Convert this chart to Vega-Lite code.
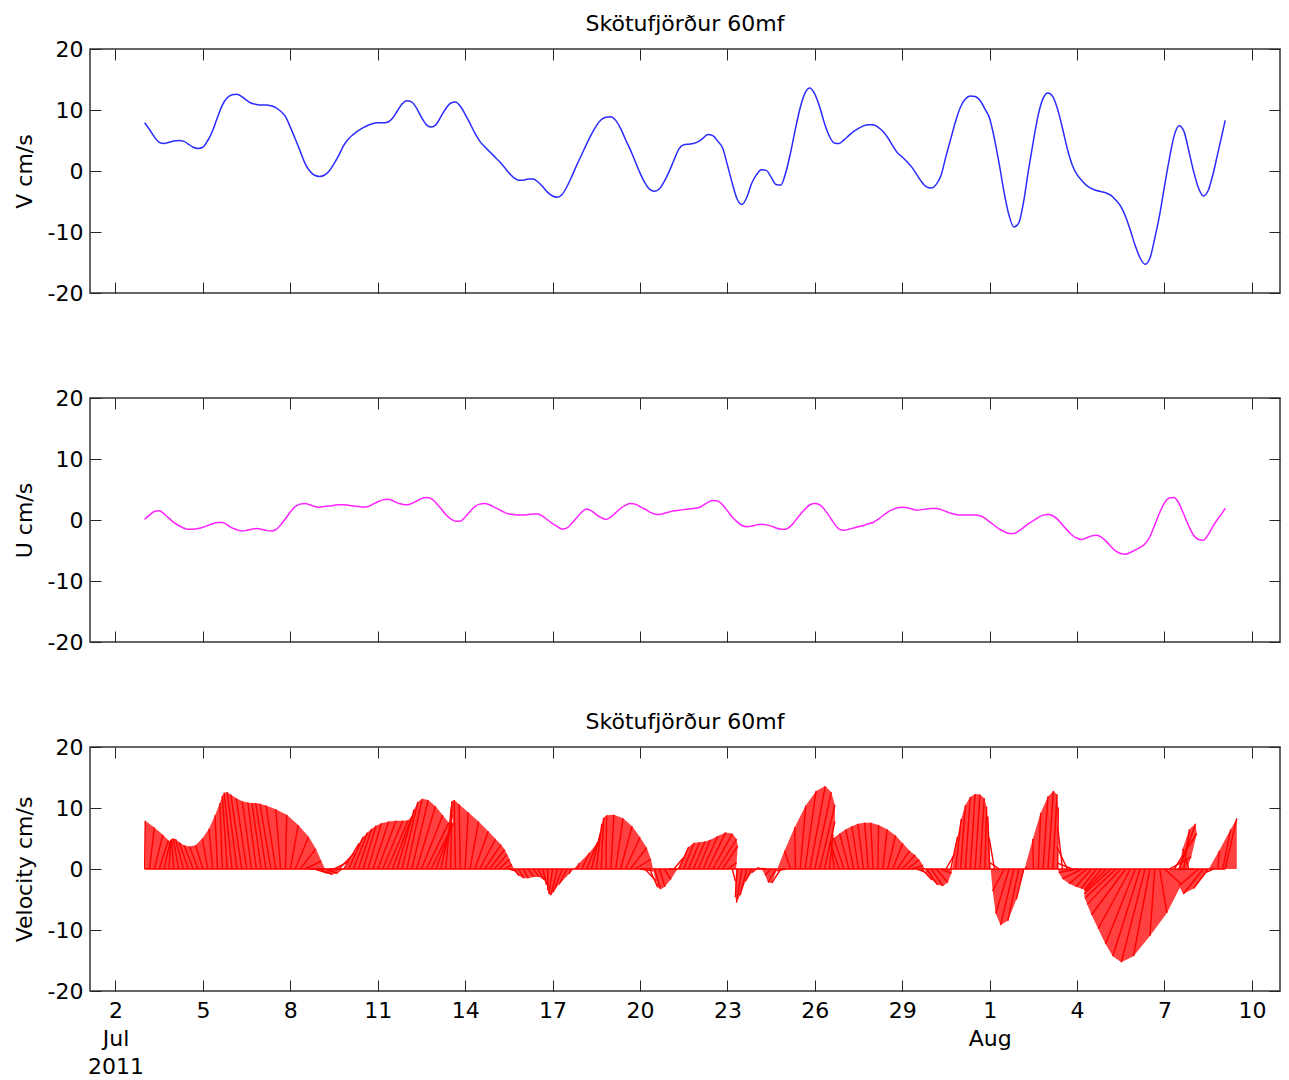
{
  "$schema": "https://vega.github.io/schema/vega-lite/v6.json",
  "background": "white",
  "padding": {"left": 12, "top": 12, "right": 4, "bottom": 4},
  "bounds": "flush",
  "spacing": 105,
  "config": {
    "font": "DejaVu Sans",
    "view": {"stroke": "#333333", "strokeWidth": 1.5},
    "axis": {
      "domain": false, "grid": false, "tickColor": "#262626", "tickWidth": 1, "tickSize": -11,
      "labelFont": "DejaVu Sans", "labelFontSize": 22, "labelColor": "black", "labelPadding": 18,
      "titleFont": "DejaVu Sans", "titleFontSize": 22, "titleFontWeight": "normal", "titleColor": "black"
    },
    "title": {"font": "DejaVu Sans", "fontSize": 22, "fontWeight": "normal", "color": "black", "anchor": "middle", "frame": "group", "baseline": "alphabetic", "offset": 2}
  },
  "datasets": {
    "cur": [
      {"t":"2011-07-03T00:00","v":7.9,"u":0.1},{"t":"2011-07-03T04:00","v":6.8,"u":0.8},{"t":"2011-07-03T08:00","v":5.6,"u":1.4},{"t":"2011-07-03T12:00","v":4.7,"u":1.5},{"t":"2011-07-03T16:00","v":4.5,"u":1.0},{"t":"2011-07-03T20:00","v":4.7,"u":0.3},
      {"t":"2011-07-04T00:00","v":4.9,"u":-0.4},{"t":"2011-07-04T04:00","v":5.0,"u":-0.9},{"t":"2011-07-04T08:00","v":4.9,"u":-1.3},{"t":"2011-07-04T12:00","v":4.4,"u":-1.5},{"t":"2011-07-04T16:00","v":3.9,"u":-1.5},{"t":"2011-07-04T20:00","v":3.7,"u":-1.4},
      {"t":"2011-07-05T00:00","v":3.9,"u":-1.2},{"t":"2011-07-05T04:00","v":5.0,"u":-0.9},{"t":"2011-07-05T08:00","v":6.6,"u":-0.6},{"t":"2011-07-05T12:00","v":8.8,"u":-0.4},{"t":"2011-07-05T16:00","v":10.8,"u":-0.4},{"t":"2011-07-05T20:00","v":12.0,"u":-0.8},
      {"t":"2011-07-06T00:00","v":12.5,"u":-1.3},{"t":"2011-07-06T04:00","v":12.6,"u":-1.6},{"t":"2011-07-06T08:00","v":12.2,"u":-1.8},{"t":"2011-07-06T12:00","v":11.6,"u":-1.7},{"t":"2011-07-06T16:00","v":11.1,"u":-1.5},{"t":"2011-07-06T20:00","v":10.9,"u":-1.4},
      {"t":"2011-07-07T00:00","v":10.8,"u":-1.5},{"t":"2011-07-07T04:00","v":10.8,"u":-1.7},{"t":"2011-07-07T08:00","v":10.7,"u":-1.8},{"t":"2011-07-07T12:00","v":10.4,"u":-1.6},{"t":"2011-07-07T16:00","v":9.8,"u":-0.8},{"t":"2011-07-07T20:00","v":8.9,"u":0.2},
      {"t":"2011-07-08T00:00","v":7.2,"u":1.3},{"t":"2011-07-08T04:00","v":5.3,"u":2.2},{"t":"2011-07-08T08:00","v":3.3,"u":2.6},{"t":"2011-07-08T12:00","v":1.3,"u":2.7},{"t":"2011-07-08T16:00","v":0.0,"u":2.5},{"t":"2011-07-08T20:00","v":-0.7,"u":2.2},
      {"t":"2011-07-09T00:00","v":-0.9,"u":2.1},{"t":"2011-07-09T04:00","v":-0.7,"u":2.2},{"t":"2011-07-09T08:00","v":0.0,"u":2.3},{"t":"2011-07-09T12:00","v":1.2,"u":2.4},{"t":"2011-07-09T16:00","v":2.6,"u":2.5},{"t":"2011-07-09T20:00","v":4.2,"u":2.5},
      {"t":"2011-07-10T00:00","v":5.3,"u":2.4},{"t":"2011-07-10T04:00","v":6.0,"u":2.3},{"t":"2011-07-10T08:00","v":6.6,"u":2.2},{"t":"2011-07-10T12:00","v":7.1,"u":2.1},{"t":"2011-07-10T16:00","v":7.5,"u":2.2},{"t":"2011-07-10T20:00","v":7.8,"u":2.6},
      {"t":"2011-07-11T00:00","v":7.9,"u":3.0},{"t":"2011-07-11T04:00","v":7.9,"u":3.3},{"t":"2011-07-11T08:00","v":8.0,"u":3.4},{"t":"2011-07-11T12:00","v":8.6,"u":3.2},{"t":"2011-07-11T16:00","v":9.8,"u":2.8},{"t":"2011-07-11T20:00","v":11.0,"u":2.6},
      {"t":"2011-07-12T00:00","v":11.5,"u":2.5},{"t":"2011-07-12T04:00","v":11.3,"u":2.7},{"t":"2011-07-12T08:00","v":10.3,"u":3.1},{"t":"2011-07-12T12:00","v":8.8,"u":3.5},{"t":"2011-07-12T16:00","v":7.6,"u":3.7},{"t":"2011-07-12T20:00","v":7.2,"u":3.5},
      {"t":"2011-07-13T00:00","v":7.6,"u":2.8},{"t":"2011-07-13T04:00","v":8.9,"u":1.9},{"t":"2011-07-13T08:00","v":10.2,"u":0.9},{"t":"2011-07-13T12:00","v":11.1,"u":0.2},{"t":"2011-07-13T16:00","v":11.3,"u":-0.2},{"t":"2011-07-13T20:00","v":10.6,"u":-0.2},
      {"t":"2011-07-14T00:00","v":9.3,"u":0.5},{"t":"2011-07-14T04:00","v":7.8,"u":1.4},{"t":"2011-07-14T08:00","v":6.2,"u":2.2},{"t":"2011-07-14T12:00","v":4.9,"u":2.6},{"t":"2011-07-14T16:00","v":4.0,"u":2.7},{"t":"2011-07-14T20:00","v":3.2,"u":2.5},
      {"t":"2011-07-15T00:00","v":2.4,"u":2.1},{"t":"2011-07-15T04:00","v":1.6,"u":1.7},{"t":"2011-07-15T08:00","v":0.7,"u":1.3},{"t":"2011-07-15T12:00","v":-0.3,"u":1.0},{"t":"2011-07-15T16:00","v":-1.1,"u":0.9},{"t":"2011-07-15T20:00","v":-1.5,"u":0.8},
      {"t":"2011-07-16T00:00","v":-1.5,"u":0.8},{"t":"2011-07-16T04:00","v":-1.3,"u":0.9},{"t":"2011-07-16T08:00","v":-1.3,"u":1.0},{"t":"2011-07-16T12:00","v":-1.8,"u":1.0},{"t":"2011-07-16T16:00","v":-2.6,"u":0.6},{"t":"2011-07-16T20:00","v":-3.5,"u":0.0},
      {"t":"2011-07-17T00:00","v":-4.1,"u":-0.6},{"t":"2011-07-17T04:00","v":-4.3,"u":-1.1},{"t":"2011-07-17T08:00","v":-3.8,"u":-1.5},{"t":"2011-07-17T12:00","v":-2.5,"u":-1.3},{"t":"2011-07-17T16:00","v":-0.8,"u":-0.5},{"t":"2011-07-17T20:00","v":1.0,"u":0.4},
      {"t":"2011-07-18T00:00","v":2.7,"u":1.3},{"t":"2011-07-18T04:00","v":4.4,"u":1.8},{"t":"2011-07-18T08:00","v":6.0,"u":1.5},{"t":"2011-07-18T12:00","v":7.4,"u":0.9},{"t":"2011-07-18T16:00","v":8.4,"u":0.4},{"t":"2011-07-18T20:00","v":8.8,"u":0.1},
      {"t":"2011-07-19T00:00","v":8.9,"u":0.5},{"t":"2011-07-19T04:00","v":8.3,"u":1.2},{"t":"2011-07-19T08:00","v":7.0,"u":1.9},{"t":"2011-07-19T12:00","v":5.2,"u":2.4},{"t":"2011-07-19T16:00","v":3.5,"u":2.7},{"t":"2011-07-19T20:00","v":1.6,"u":2.6},
      {"t":"2011-07-20T00:00","v":-0.3,"u":2.2},{"t":"2011-07-20T04:00","v":-1.9,"u":1.8},{"t":"2011-07-20T08:00","v":-3.0,"u":1.3},{"t":"2011-07-20T12:00","v":-3.3,"u":1.0},{"t":"2011-07-20T16:00","v":-2.9,"u":0.9},{"t":"2011-07-20T20:00","v":-1.7,"u":1.1},
      {"t":"2011-07-21T00:00","v":-0.1,"u":1.3},{"t":"2011-07-21T04:00","v":1.8,"u":1.5},{"t":"2011-07-21T08:00","v":3.6,"u":1.6},{"t":"2011-07-21T12:00","v":4.3,"u":1.7},{"t":"2011-07-21T16:00","v":4.4,"u":1.8},{"t":"2011-07-21T20:00","v":4.5,"u":1.9},
      {"t":"2011-07-22T00:00","v":4.8,"u":2.0},{"t":"2011-07-22T04:00","v":5.4,"u":2.4},{"t":"2011-07-22T08:00","v":6.0,"u":2.9},{"t":"2011-07-22T12:00","v":5.8,"u":3.2},{"t":"2011-07-22T16:00","v":4.9,"u":3.1},{"t":"2011-07-22T20:00","v":3.8,"u":2.5},
      {"t":"2011-07-23T00:00","v":1.0,"u":1.5},{"t":"2011-07-23T04:00","v":-2.0,"u":0.5},{"t":"2011-07-23T08:00","v":-4.6,"u":-0.3},{"t":"2011-07-23T12:00","v":-5.5,"u":-0.9},{"t":"2011-07-23T16:00","v":-4.3,"u":-1.1},{"t":"2011-07-23T20:00","v":-2.0,"u":-1.0},
      {"t":"2011-07-24T00:00","v":-0.6,"u":-0.8},{"t":"2011-07-24T04:00","v":0.2,"u":-0.7},{"t":"2011-07-24T08:00","v":0.1,"u":-0.8},{"t":"2011-07-24T12:00","v":-1.0,"u":-1.0},{"t":"2011-07-24T16:00","v":-2.2,"u":-1.3},{"t":"2011-07-24T20:00","v":-2.3,"u":-1.5},
      {"t":"2011-07-25T00:00","v":-0.3,"u":-1.5},{"t":"2011-07-25T04:00","v":3.0,"u":-1.0},{"t":"2011-07-25T08:00","v":6.9,"u":-0.1},{"t":"2011-07-25T12:00","v":10.4,"u":0.9},{"t":"2011-07-25T16:00","v":12.8,"u":1.8},{"t":"2011-07-25T20:00","v":13.6,"u":2.5},
      {"t":"2011-07-26T00:00","v":12.6,"u":2.7},{"t":"2011-07-26T04:00","v":10.5,"u":2.5},{"t":"2011-07-26T08:00","v":7.8,"u":1.7},{"t":"2011-07-26T12:00","v":5.7,"u":0.6},{"t":"2011-07-26T16:00","v":4.6,"u":-0.6},{"t":"2011-07-26T20:00","v":4.5,"u":-1.5},
      {"t":"2011-07-27T00:00","v":5.1,"u":-1.7},{"t":"2011-07-27T04:00","v":5.8,"u":-1.5},{"t":"2011-07-27T08:00","v":6.5,"u":-1.3},{"t":"2011-07-27T12:00","v":7.0,"u":-1.1},{"t":"2011-07-27T16:00","v":7.4,"u":-0.9},{"t":"2011-07-27T20:00","v":7.6,"u":-0.6},
      {"t":"2011-07-28T00:00","v":7.6,"u":-0.4},{"t":"2011-07-28T04:00","v":7.2,"u":0.1},{"t":"2011-07-28T08:00","v":6.5,"u":0.7},{"t":"2011-07-28T12:00","v":5.5,"u":1.3},{"t":"2011-07-28T16:00","v":4.2,"u":1.7},{"t":"2011-07-28T20:00","v":3.0,"u":2.0},
      {"t":"2011-07-29T00:00","v":2.3,"u":2.1},{"t":"2011-07-29T04:00","v":1.5,"u":2.0},{"t":"2011-07-29T08:00","v":0.6,"u":1.8},{"t":"2011-07-29T12:00","v":-0.6,"u":1.6},{"t":"2011-07-29T16:00","v":-1.8,"u":1.7},{"t":"2011-07-29T20:00","v":-2.6,"u":1.8},
      {"t":"2011-07-30T00:00","v":-2.8,"u":1.9},{"t":"2011-07-30T04:00","v":-2.2,"u":1.9},{"t":"2011-07-30T08:00","v":-0.7,"u":1.7},{"t":"2011-07-30T12:00","v":2.4,"u":1.4},{"t":"2011-07-30T16:00","v":5.3,"u":1.1},{"t":"2011-07-30T20:00","v":8.2,"u":0.9},
      {"t":"2011-07-31T00:00","v":10.5,"u":0.8},{"t":"2011-07-31T04:00","v":11.8,"u":0.8},{"t":"2011-07-31T08:00","v":12.3,"u":0.8},{"t":"2011-07-31T12:00","v":12.2,"u":0.8},{"t":"2011-07-31T16:00","v":11.6,"u":0.7},{"t":"2011-07-31T20:00","v":10.2,"u":0.3},
      {"t":"2011-08-01T00:00","v":8.6,"u":-0.3},{"t":"2011-08-01T04:00","v":5.2,"u":-0.9},{"t":"2011-08-01T08:00","v":1.0,"u":-1.5},{"t":"2011-08-01T12:00","v":-3.6,"u":-1.9},{"t":"2011-08-01T16:00","v":-7.3,"u":-2.2},{"t":"2011-08-01T20:00","v":-9.2,"u":-2.2},
      {"t":"2011-08-02T00:00","v":-8.5,"u":-1.8},{"t":"2011-08-02T04:00","v":-5.0,"u":-1.2},{"t":"2011-08-02T08:00","v":0.2,"u":-0.6},{"t":"2011-08-02T12:00","v":4.9,"u":-0.1},{"t":"2011-08-02T16:00","v":9.2,"u":0.4},{"t":"2011-08-02T20:00","v":11.9,"u":0.8},
      {"t":"2011-08-03T00:00","v":12.8,"u":0.9},{"t":"2011-08-03T04:00","v":12.2,"u":0.7},{"t":"2011-08-03T08:00","v":10.1,"u":0.1},{"t":"2011-08-03T12:00","v":7.0,"u":-0.8},{"t":"2011-08-03T16:00","v":3.6,"u":-1.7},{"t":"2011-08-03T20:00","v":1.0,"u":-2.5},
      {"t":"2011-08-04T00:00","v":-0.6,"u":-3.0},{"t":"2011-08-04T04:00","v":-1.6,"u":-3.2},{"t":"2011-08-04T08:00","v":-2.4,"u":-2.9},{"t":"2011-08-04T12:00","v":-2.9,"u":-2.6},{"t":"2011-08-04T16:00","v":-3.2,"u":-2.5},{"t":"2011-08-04T20:00","v":-3.4,"u":-2.8},
      {"t":"2011-08-05T00:00","v":-3.6,"u":-3.5},{"t":"2011-08-05T04:00","v":-4.0,"u":-4.4},{"t":"2011-08-05T08:00","v":-4.8,"u":-5.1},{"t":"2011-08-05T12:00","v":-5.8,"u":-5.5},{"t":"2011-08-05T16:00","v":-7.5,"u":-5.6},{"t":"2011-08-05T20:00","v":-9.8,"u":-5.3},
      {"t":"2011-08-06T00:00","v":-12.3,"u":-4.9},{"t":"2011-08-06T04:00","v":-14.3,"u":-4.5},{"t":"2011-08-06T08:00","v":-15.3,"u":-3.9},{"t":"2011-08-06T12:00","v":-14.3,"u":-2.7},{"t":"2011-08-06T16:00","v":-11.0,"u":-0.8},{"t":"2011-08-06T20:00","v":-7.2,"u":1.2},
      {"t":"2011-08-07T00:00","v":-2.5,"u":2.8},{"t":"2011-08-07T04:00","v":2.0,"u":3.6},{"t":"2011-08-07T08:00","v":5.8,"u":3.7},{"t":"2011-08-07T12:00","v":7.4,"u":2.7},{"t":"2011-08-07T16:00","v":6.5,"u":0.9},{"t":"2011-08-07T20:00","v":3.3,"u":-1.0},
      {"t":"2011-08-08T00:00","v":-0.1,"u":-2.5},{"t":"2011-08-08T04:00","v":-2.8,"u":-3.2},{"t":"2011-08-08T08:00","v":-4.1,"u":-3.3},{"t":"2011-08-08T12:00","v":-3.2,"u":-2.4},{"t":"2011-08-08T16:00","v":-0.5,"u":-1.0},{"t":"2011-08-08T20:00","v":3.0,"u":0.2},
      {"t":"2011-08-09T00:00","v":6.5,"u":1.3},{"t":"2011-08-09T02:00","v":8.3,"u":1.9}
    ]
  },
  "vconcat": [
    {
      "width": 1190, "height": 244,
      "title": {"text": "Skötufjörður 60mf"},
      "data": {"name": "cur"},
      "layer": [
        {
          "mark": {"type": "line", "color": "#2b2bff", "strokeWidth": 1.5, "interpolate": "monotone"},
          "encoding": {
            "x": {"field": "t", "type": "temporal", "scale": {"domain": [{"year": 2011, "month": 7, "date": 1, "hours": 3}, {"year": 2011, "month": 8, "date": 10, "hours": 23, "minutes": 8}]},
                  "axis": {"orient": "bottom", "labels": false, "title": null, "values": [{"year":2011,"month":7,"date":2},{"year":2011,"month":7,"date":5},{"year":2011,"month":7,"date":8},{"year":2011,"month":7,"date":11},{"year":2011,"month":7,"date":14},{"year":2011,"month":7,"date":17},{"year":2011,"month":7,"date":20},{"year":2011,"month":7,"date":23},{"year":2011,"month":7,"date":26},{"year":2011,"month":7,"date":29},{"year":2011,"month":8,"date":1},{"year":2011,"month":8,"date":4},{"year":2011,"month":8,"date":7},{"year":2011,"month":8,"date":10}]}},
            "y": {"field": "v", "type": "quantitative", "scale": {"domain": [-20, 20], "nice": false},
                  "axis": {"orient": "left", "values": [-20, -10, 0, 10, 20], "labelExpr": "'' + datum.value", "title": "V cm/s", "titleX": -59, "titleBaseline": "alphabetic", "titleAngle": 270, "titleAlign": "center"}}
          }
        },
        {
          "mark": {"type": "line", "opacity": 0},
          "encoding": {
            "x": {"field": "t", "type": "temporal", "axis": {"orient": "top", "labels": false, "title": null, "values": [{"year":2011,"month":7,"date":2},{"year":2011,"month":7,"date":5},{"year":2011,"month":7,"date":8},{"year":2011,"month":7,"date":11},{"year":2011,"month":7,"date":14},{"year":2011,"month":7,"date":17},{"year":2011,"month":7,"date":20},{"year":2011,"month":7,"date":23},{"year":2011,"month":7,"date":26},{"year":2011,"month":7,"date":29},{"year":2011,"month":8,"date":1},{"year":2011,"month":8,"date":4},{"year":2011,"month":8,"date":7},{"year":2011,"month":8,"date":10}]}},
            "y": {"field": "v", "type": "quantitative", "axis": {"orient": "right", "labels": false, "title": null, "values": [-20, -10, 0, 10, 20]}}
          }
        }
      ]
    },
    {
      "width": 1190, "height": 244,
      "data": {"name": "cur"},
      "layer": [
        {
          "mark": {"type": "line", "color": "#ff22ff", "strokeWidth": 1.5, "interpolate": "monotone"},
          "encoding": {
            "x": {"field": "t", "type": "temporal", "scale": {"domain": [{"year": 2011, "month": 7, "date": 1, "hours": 3}, {"year": 2011, "month": 8, "date": 10, "hours": 23, "minutes": 8}]},
                  "axis": {"orient": "bottom", "labels": false, "title": null, "values": [{"year":2011,"month":7,"date":2},{"year":2011,"month":7,"date":5},{"year":2011,"month":7,"date":8},{"year":2011,"month":7,"date":11},{"year":2011,"month":7,"date":14},{"year":2011,"month":7,"date":17},{"year":2011,"month":7,"date":20},{"year":2011,"month":7,"date":23},{"year":2011,"month":7,"date":26},{"year":2011,"month":7,"date":29},{"year":2011,"month":8,"date":1},{"year":2011,"month":8,"date":4},{"year":2011,"month":8,"date":7},{"year":2011,"month":8,"date":10}]}},
            "y": {"field": "u", "type": "quantitative", "scale": {"domain": [-20, 20], "nice": false},
                  "axis": {"orient": "left", "values": [-20, -10, 0, 10, 20], "labelExpr": "'' + datum.value", "title": "U cm/s", "titleX": -59, "titleBaseline": "alphabetic", "titleAngle": 270, "titleAlign": "center"}}
          }
        },
        {
          "mark": {"type": "line", "opacity": 0},
          "encoding": {
            "x": {"field": "t", "type": "temporal", "axis": {"orient": "top", "labels": false, "title": null, "values": [{"year":2011,"month":7,"date":2},{"year":2011,"month":7,"date":5},{"year":2011,"month":7,"date":8},{"year":2011,"month":7,"date":11},{"year":2011,"month":7,"date":14},{"year":2011,"month":7,"date":17},{"year":2011,"month":7,"date":20},{"year":2011,"month":7,"date":23},{"year":2011,"month":7,"date":26},{"year":2011,"month":7,"date":29},{"year":2011,"month":8,"date":1},{"year":2011,"month":8,"date":4},{"year":2011,"month":8,"date":7},{"year":2011,"month":8,"date":10}]}},
            "y": {"field": "u", "type": "quantitative", "axis": {"orient": "right", "labels": false, "title": null, "values": [-20, -10, 0, 10, 20]}}
          }
        }
      ]
    },
    {
      "width": 1190, "height": 244,
      "title": {"text": "Skötufjörður 60mf"},
      "data": {"name": "cur"},
      "transform": [{"calculate": "time(toDate(datum.t)) + datum.u * 18082000", "as": "tip"}],
      "layer": [
        {
          "mark": {"type": "line", "opacity": 0},
          "encoding": {
            "x": {"field": "t", "type": "temporal", "scale": {"domain": [{"year": 2011, "month": 7, "date": 1, "hours": 3}, {"year": 2011, "month": 8, "date": 10, "hours": 23, "minutes": 8}]},
                  "axis": {"orient": "bottom", "title": null, "labelLineHeight": 28, "labelPadding": 20, "labelExpr": "month(datum.value) == 6 && date(datum.value) == 2 ? ['2', 'Jul', '2011'] : (month(datum.value) == 7 && date(datum.value) == 1 ? ['1', 'Aug'] : timeFormat(datum.value, '%-d'))", "values": [{"year":2011,"month":7,"date":2},{"year":2011,"month":7,"date":5},{"year":2011,"month":7,"date":8},{"year":2011,"month":7,"date":11},{"year":2011,"month":7,"date":14},{"year":2011,"month":7,"date":17},{"year":2011,"month":7,"date":20},{"year":2011,"month":7,"date":23},{"year":2011,"month":7,"date":26},{"year":2011,"month":7,"date":29},{"year":2011,"month":8,"date":1},{"year":2011,"month":8,"date":4},{"year":2011,"month":8,"date":7},{"year":2011,"month":8,"date":10}]}},
            "y": {"field": "v", "type": "quantitative", "scale": {"domain": [-20, 20], "nice": false},
                  "axis": {"orient": "left", "values": [-20, -10, 0, 10, 20], "labelExpr": "'' + datum.value", "title": "Velocity cm/s", "titleX": -59, "titleBaseline": "alphabetic", "titleAngle": 270, "titleAlign": "center"}}
          }
        },
        {
          "mark": {"type": "area", "fill": "#ff2020", "fillOpacity": 0.85, "interpolate": "linear"},
          "encoding": {
            "x": {"field": "tip", "type": "temporal", "axis": null},
            "y": {"field": "v", "type": "quantitative", "axis": null},
            "y2": {"datum": 0},
            "order": {"value": null}
          }
        },
        {
          "mark": {"type": "rule", "color": "#ff0000", "strokeWidth": 1.4},
          "encoding": {
            "x": {"field": "tip", "type": "temporal", "axis": null},
            "x2": {"field": "t"},
            "y": {"field": "v", "type": "quantitative", "axis": null},
            "y2": {"datum": 0}
          }
        },
        {
          "mark": {"type": "line", "color": "#ff0000", "strokeWidth": 1.5},
          "encoding": {
            "x": {"field": "t", "type": "temporal", "axis": null},
            "y": {"datum": 0, "type": "quantitative", "axis": null}
          }
        },
        {
          "mark": {"type": "line", "opacity": 0},
          "encoding": {
            "x": {"field": "t", "type": "temporal", "axis": {"orient": "top", "labels": false, "title": null, "values": [{"year":2011,"month":7,"date":2},{"year":2011,"month":7,"date":5},{"year":2011,"month":7,"date":8},{"year":2011,"month":7,"date":11},{"year":2011,"month":7,"date":14},{"year":2011,"month":7,"date":17},{"year":2011,"month":7,"date":20},{"year":2011,"month":7,"date":23},{"year":2011,"month":7,"date":26},{"year":2011,"month":7,"date":29},{"year":2011,"month":8,"date":1},{"year":2011,"month":8,"date":4},{"year":2011,"month":8,"date":7},{"year":2011,"month":8,"date":10}]}},
            "y": {"field": "v", "type": "quantitative", "axis": {"orient": "right", "labels": false, "title": null, "values": [-20, -10, 0, 10, 20]}}
          }
        }
      ]
    }
  ]
}
